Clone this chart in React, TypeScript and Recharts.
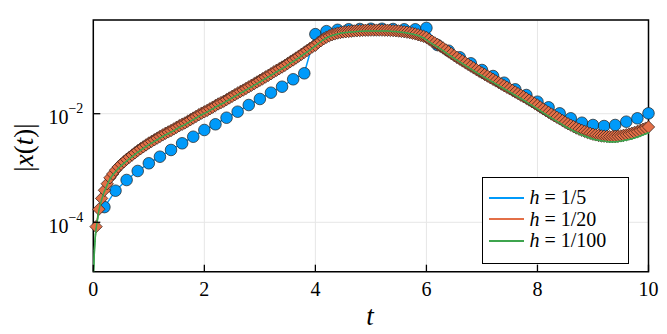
import React from 'react';
import { LineChart, Line, XAxis, YAxis, CartesianGrid, ReferenceArea, Legend } from 'recharts';

const FONT = "'Liberation Serif', 'Times New Roman', serif";
const BLUE = '#009AFA';
const ORANGE = '#E36F47';
const GREEN = '#3EA44E';

const xTicks = [0, 2, 4, 6, 8, 10];
// y axis is log10|x(t)|, ticks shown as 10^-4, 10^-2
const yTicks = [-4, -2];
const yDomain = [-4.91, -0.274];

const legendNames = ['1/5', '1/20', '1/100'];
const legendColors = [BLUE, ORANGE, GREEN];

// log10|x(t)|

// h = 1/5, t = 0.2 ... 10
const blueLog = [
  -3.72, -3.418, -3.221, -3.055, -2.913, -2.792, -2.668, -2.545, -2.424, -2.3,
  -2.195, -2.074, -1.963, -1.84, -1.729, -1.613, -1.503, -1.366, -1.256, -0.535,
  -0.48, -0.455, -0.445, -0.44, -0.435, -0.435, -0.44, -0.445, -0.445, -0.42,
  -0.735, -0.84, -0.961, -1.072, -1.195, -1.306, -1.429, -1.551, -1.656, -1.779,
  -1.882, -1.993, -2.085, -2.166, -2.208, -2.227, -2.208, -2.147, -2.085, -1.993,
];

// h = 1/20, t = 0.05 ... 10
const orangeLog = [
  -4.08, -3.76, -3.56, -3.41, -3.29, -3.18, -3.11, -3.04, -2.98, -2.93,
  -2.885, -2.84, -2.8, -2.76, -2.72, -2.68, -2.645, -2.61, -2.575, -2.54,
  -2.51, -2.48, -2.45, -2.42, -2.39, -2.36, -2.335, -2.31, -2.28, -2.25,
  -2.22, -2.195, -2.17, -2.14, -2.11, -2.08, -2.05, -2.02, -1.99, -1.965,
  -1.94, -1.91, -1.88, -1.85, -1.82, -1.795, -1.77, -1.74, -1.71, -1.68,
  -1.65, -1.62, -1.59, -1.565, -1.535, -1.505, -1.475, -1.445, -1.415, -1.385,
  -1.355, -1.325, -1.295, -1.265, -1.23, -1.2, -1.17, -1.14, -1.11, -1.075,
  -1.04, -1.01, -0.975, -0.94, -0.905, -0.87, -0.835, -0.8, -0.765, -0.74,
  -0.69, -0.655, -0.62, -0.59, -0.565, -0.545, -0.53, -0.515, -0.505, -0.495,
  -0.49, -0.485, -0.48, -0.475, -0.471, -0.468, -0.465, -0.463, -0.462, -0.461,
  -0.46, -0.46, -0.46, -0.461, -0.462, -0.463, -0.466, -0.469, -0.473, -0.478,
  -0.484, -0.49, -0.498, -0.507, -0.518, -0.53, -0.545, -0.56, -0.575, -0.595,
  -0.63, -0.665, -0.695, -0.725, -0.758, -0.79, -0.825, -0.86, -0.895, -0.93,
  -0.963, -0.995, -1.028, -1.06, -1.092, -1.124, -1.156, -1.188, -1.218, -1.248,
  -1.278, -1.307, -1.337, -1.366, -1.396, -1.425, -1.455, -1.484, -1.513, -1.542,
  -1.572, -1.601, -1.63, -1.659, -1.688, -1.717, -1.749, -1.78, -1.812, -1.843,
  -1.877, -1.911, -1.943, -1.974, -2.006, -2.037, -2.066, -2.095, -2.127, -2.158,
  -2.185, -2.211, -2.238, -2.264, -2.286, -2.307, -2.326, -2.345, -2.362, -2.378,
  -2.39, -2.401, -2.408, -2.414, -2.418, -2.422, -2.422, -2.42, -2.415, -2.409,
  -2.398, -2.387, -2.374, -2.36, -2.344, -2.328, -2.307, -2.286, -2.265, -2.244,
];

// h = 1/100 (drawn as a line): first few points, then sampled every 0.05
const greenStartT = [0.005, 0.01, 0.02, 0.03, 0.04];
const greenStartLog = [-4.9, -4.8, -4.52, -4.35, -4.22];
const greenLog = [
  -4.12, -3.78, -3.58, -3.43, -3.31, -3.2, -3.13, -3.07, -3.01, -2.96,
  -2.915, -2.87, -2.83, -2.79, -2.75, -2.71, -2.675, -2.64, -2.605, -2.57,
  -2.54, -2.51, -2.48, -2.45, -2.42, -2.39, -2.365, -2.34, -2.31, -2.28,
  -2.25, -2.225, -2.2, -2.17, -2.14, -2.11, -2.08, -2.05, -2.02, -1.995,
  -1.97, -1.94, -1.91, -1.88, -1.85, -1.825, -1.8, -1.77, -1.74, -1.71,
  -1.68, -1.65, -1.62, -1.595, -1.565, -1.535, -1.505, -1.475, -1.445, -1.415,
  -1.385, -1.355, -1.325, -1.295, -1.26, -1.23, -1.2, -1.17, -1.14, -1.105,
  -1.07, -1.04, -1.005, -0.97, -0.935, -0.9, -0.865, -0.83, -0.79, -0.75,
  -0.71, -0.67, -0.635, -0.605, -0.58, -0.56, -0.545, -0.53, -0.52, -0.51,
  -0.505, -0.5, -0.495, -0.49, -0.486, -0.483, -0.48, -0.478, -0.477, -0.476,
  -0.475, -0.475, -0.475, -0.476, -0.477, -0.478, -0.481, -0.484, -0.488, -0.493,
  -0.499, -0.505, -0.513, -0.522, -0.533, -0.545, -0.56, -0.58, -0.605, -0.64,
  -0.675, -0.71, -0.74, -0.77, -0.805, -0.84, -0.875, -0.91, -0.945, -0.98,
  -1.013, -1.045, -1.078, -1.11, -1.143, -1.175, -1.208, -1.24, -1.27, -1.3,
  -1.33, -1.36, -1.39, -1.42, -1.45, -1.48, -1.51, -1.54, -1.57, -1.6,
  -1.63, -1.66, -1.69, -1.72, -1.75, -1.78, -1.813, -1.845, -1.878, -1.91,
  -1.945, -1.98, -2.013, -2.045, -2.078, -2.11, -2.14, -2.17, -2.203, -2.235,
  -2.263, -2.29, -2.318, -2.345, -2.368, -2.39, -2.41, -2.43, -2.448, -2.465,
  -2.478, -2.49, -2.498, -2.505, -2.51, -2.515, -2.516, -2.515, -2.51, -2.505,
  -2.495, -2.485, -2.473, -2.46, -2.445, -2.43, -2.41, -2.39, -2.37, -2.35,
];

// values sit on the grid t = h, 2h, 3h, ...
const onGrid = (h: number, vals: number[]) =>
  vals.map((v, i) => ({ t: +((i + 1) * h).toFixed(3), y: v }));

const blueData = onGrid(1 / 5, blueLog);
const orangeData = onGrid(1 / 20, orangeLog);
const greenData = [
  ...greenStartT.map((t, i) => ({ t, y: greenStartLog[i] })),
  ...onGrid(1 / 20, greenLog),
];

const circleDot = (props: any) => (
  <circle
    key={`c${props.index}`}
    cx={props.cx}
    cy={props.cy}
    r={5.8}
    fill={BLUE}
    stroke="#1c1c1c"
    strokeWidth={0.7}
  />
);

const diamondDot = (props: any) => {
  const { cx, cy } = props;
  const s = 6.2;
  return (
    <path
      key={`d${props.index}`}
      d={`M${cx},${cy - s}L${cx + s},${cy}L${cx},${cy + s}L${cx - s},${cy}Z`}
      fill={ORANGE}
      stroke="#2a1a14"
      strokeWidth={0.7}
    />
  );
};

// dots are drawn above every curve, so the fine-step line is repeated
// in its dot layer (segment from the previous point) to stay on top
const greenSegment = (props: any) => {
  const { index, cx, cy, points } = props;
  if (!points || index === 0) return <g key={`g${index}`} />;
  const p = points[index - 1];
  return (
    <line
      key={`g${index}`}
      x1={p.x}
      y1={p.y}
      x2={cx}
      y2={cy}
      stroke={GREEN}
      strokeWidth={1.5}
      strokeLinecap="round"
    />
  );
};

const XTick = ({ x, y, payload }: any) => (
  <g>
    <line x1={x} y1={y} x2={x} y2={y - 7} stroke="#000" strokeWidth={1.3} />
    <text x={x} y={y + 24.5} textAnchor="middle" style={{ fontFamily: FONT }} fontSize={20} fill="#000">
      {payload.value}
    </text>
  </g>
);

const YTick = ({ x, y, payload }: any) => (
  <g>
    <line x1={x} y1={y} x2={x + 7} y2={y} stroke="#000" strokeWidth={1.3} />
    <text x={x - 10} y={y + 10.5} textAnchor="end" style={{ fontFamily: FONT }} fontSize={20} fill="#000">
      10
      <tspan dy={-11} fontSize={14}>{`\u2212${-payload.value}`}</tspan>
    </text>
  </g>
);

const LegendBox = () => (
  <div
    style={{
      boxSizing: 'border-box',
      width: 147,
      height: 87,
      border: '1.5px solid #000',
      background: '#fff',
      padding: '9px 0 0 5.5px',
      fontFamily: FONT,
      fontSize: 20,
      color: '#000',
    }}
  >
    {legendNames.map((n, i) => (
      <div key={n} style={{ display: 'flex', alignItems: 'center', height: 21.5 }}>
        <span style={{ width: 35, height: 0, borderTop: `2px solid ${legendColors[i]}`, marginRight: 6 }} />
        <span style={{ whiteSpace: 'pre' }}>
          <i>h</i>
          {` = ${n}`}
        </span>
      </div>
    ))}
  </div>
);

export default function App() {
  return (
    <div style={{ position: 'absolute', left: 0, top: 0, background: '#fff', fontFamily: FONT }}>
      <LineChart width={667} height={334} margin={{ top: 20, right: 18.5, bottom: 0, left: 0 }}>
        <CartesianGrid stroke="#e6e6e6" strokeWidth={1} />
        <XAxis
          type="number"
          dataKey="t"
          domain={[0, 10]}
          ticks={xTicks}
          height={62.3}
          axisLine={false}
          tickLine={false}
          tickSize={0}
          tickMargin={0}
          tick={<XTick />}
          label={{
            content: () => (
              <text x={370} y={325} textAnchor="middle" style={{ fontFamily: FONT }} fontStyle="italic" fontSize={27} fill="#000">
                t
              </text>
            ),
          }}
        />
        <YAxis
          type="number"
          domain={yDomain}
          ticks={yTicks}
          width={93.3}
          axisLine={false}
          tickLine={false}
          tickSize={0}
          tickMargin={0}
          tick={<YTick />}
          label={{
            content: () => (
              <text
                x={33}
                y={147.5}
                textAnchor="middle"
                transform="rotate(-90, 33, 147.5)"
                style={{ fontFamily: FONT }}
                fontSize={27}
                fill="#000"
              >
                |<tspan fontStyle="italic">x</tspan>(<tspan fontStyle="italic">t</tspan>)|
              </text>
            ),
          }}
        />
        <ReferenceArea
          x1={0}
          x2={10}
          y1={yDomain[0]}
          y2={yDomain[1]}
          fill="none"
          fillOpacity={0}
          stroke="#000"
          strokeWidth={1.5}
          ifOverflow="visible"
        />
        <Line
          data={blueData}
          dataKey="y"
          stroke={BLUE}
          strokeWidth={1.5}
          dot={circleDot}
          activeDot={false}
          isAnimationActive={false}
        />
        <Line
          data={orangeData}
          dataKey="y"
          stroke={ORANGE}
          strokeWidth={1.5}
          dot={diamondDot}
          activeDot={false}
          isAnimationActive={false}
        />
        <Line
          data={greenData}
          dataKey="y"
          stroke={GREEN}
          strokeWidth={1.5}
          dot={greenSegment}
          activeDot={false}
          isAnimationActive={false}
        />
        <Legend
          layout="vertical"
          align="center"
          verticalAlign="middle"
          wrapperStyle={{ left: 482, top: 177, width: 147, height: 87 }}
          content={() => <LegendBox />}
        />
      </LineChart>
    </div>
  );
}
